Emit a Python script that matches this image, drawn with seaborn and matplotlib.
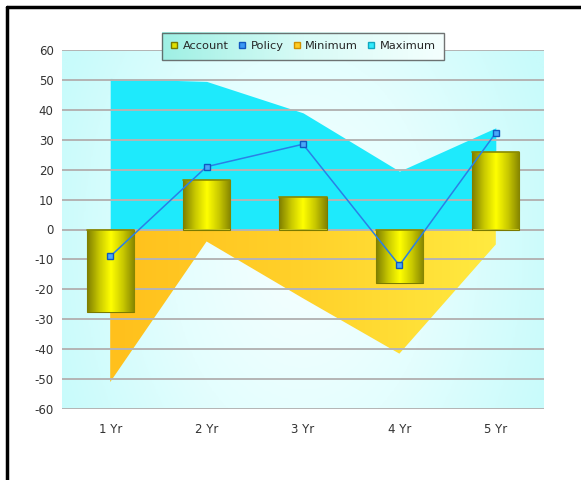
import numpy as np
import seaborn as sns
import matplotlib
matplotlib.use('Agg')
import matplotlib.pyplot as plt
from matplotlib.colors import LinearSegmentedColormap
from matplotlib.lines import Line2D

years = ['1 Yr', '2 Yr', '3 Yr', '4 Yr', '5 Yr']
account = [-27.5, 16.5, 11, -18, 26]
policy = [-9, 21, 28.5, -12, 32.3]
minimum = [-51, -4, -23, -41.5, -5]
maximum = [50.5, 49.5, 39, 19.5, 34]

sns.set_style('white')
plt.rcParams['font.family'] = ['DejaVu Sans']
plt.rcParams['axes.unicode_minus'] = False

fig = plt.figure(figsize=(5.81, 4.8), dpi=100)
ax = fig.add_axes([62 / 581, 1 - 409 / 480, 482 / 581, 359 / 480])

# background: light cyan edges, white middle
gx, gy = np.meshgrid(np.linspace(0, 1, 200), np.linspace(0, 1, 200))
r = np.sqrt(((gx - 0.5) / 0.55) ** 2 + ((gy - 0.45) / 1.1) ** 2)
bg_cmap = LinearSegmentedColormap.from_list('bg', ['#f6ffff', '#e4fefe', '#c8fbfb'])
ax.imshow(np.clip(r, 0, 1), cmap=bg_cmap, extent=[0, 1, 0, 1], transform=ax.transAxes,
          aspect='auto', origin='lower', zorder=0, vmin=0, vmax=1)

x = np.arange(len(years))

# maximum area
max_poly = ax.fill_between(x, 0, maximum, color='#1eeafc', lw=0, zorder=1)
# minimum area with horizontal gradient
min_poly = ax.fill_between(x, 0, minimum, color='none', lw=0, zorder=1)
min_cmap = LinearSegmentedColormap.from_list('mn', ['#ffc01c', '#ffd12a', '#ffea40'])
im = ax.imshow(np.linspace(0, 1, 100).reshape(1, -1), cmap=min_cmap, aspect='auto',
               extent=[0, 4, -60, 0], zorder=1)
im.set_clip_path(min_poly.get_paths()[0], transform=ax.transData)

ax.set_ylim(-60, 60)
ax.set_yticks(range(-60, 61, 10))
ax.grid(axis='y', color='#b4b4b4', lw=1.4, zorder=2)
ax.set_axisbelow(False)

# account bars
sns.barplot(x=years, y=account, color='#e6e600', width=0.49, ax=ax, zorder=3,
            edgecolor='#7a7a00', linewidth=0.8)
bar_cmap = LinearSegmentedColormap.from_list('bar', ['#7e7e00', '#c8c800', '#ffff00', '#caca00', '#858500'])
for p in ax.patches:
    bx, by = p.get_x(), p.get_y()
    bw, bh = p.get_width(), p.get_height()
    g = ax.imshow(np.linspace(0, 1, 100).reshape(1, -1), cmap=bar_cmap, aspect='auto',
                  extent=[bx, bx + bw, min(by, by + bh), max(by, by + bh)], zorder=3.1)
    g.set_clip_path(p)
    ax.plot([bx, bx + bw], [max(by, by + bh)] * 2, color='#8a8a00', lw=1.2, zorder=3.2)

# policy line
sns.lineplot(x=x, y=policy, ax=ax, color='#2a80e6', lw=1.1, zorder=4,
             marker='s', markersize=4.5, markerfacecolor='#4aa8f8',
             markeredgecolor='#1058c0', markeredgewidth=1)

ax.set_xlim(-0.5, 4.5)
ax.set_xticks(x)
ax.set_xticklabels(years)
for s in ax.spines.values():
    s.set_visible(False)
ax.tick_params(axis='both', colors='#333333', labelsize=8.5, length=4, width=1, direction='out')
ax.tick_params(axis='x', pad=6)
ax.tick_params(axis='y', pad=2)

# legend
handles = [
    Line2D([], [], ls='none', marker='s', markersize=4.5, markerfacecolor='#e0e000', markeredgecolor='#7a7a00'),
    Line2D([], [], ls='none', marker='s', markersize=4.5, markerfacecolor='#3a98f4', markeredgecolor='#1058c0'),
    Line2D([], [], ls='none', marker='s', markersize=4.5, markerfacecolor='#ffcc22', markeredgecolor='#d09000'),
    Line2D([], [], ls='none', marker='s', markersize=4.5, markerfacecolor='#30ecfc', markeredgecolor='#10a8c0'),
]
leg = ax.legend(handles, ['Account', 'Policy', 'Minimum', 'Maximum'], loc='center',
                bbox_to_anchor=(0.5, 1.01), ncol=4, frameon=True, fancybox=False,
                fontsize=8.2, handlelength=0.7, handletextpad=0.4, columnspacing=0.8,
                borderpad=0.75, edgecolor='#505050', facecolor='none')
leg.get_frame().set_linewidth(1)
leg.set_zorder(6)
fig.canvas.draw()
bb = leg.get_window_extent().transformed(ax.transAxes.inverted())
lg_cmap = LinearSegmentedColormap.from_list('lg', ['#9ff0e4', '#d8fbf6', '#f4fffe'])
ax.imshow(np.linspace(0, 1, 100).reshape(1, -1), cmap=lg_cmap, aspect='auto',
          extent=[bb.x0, bb.x1, bb.y0, bb.y1], transform=ax.transAxes, zorder=5.5, clip_on=False)

# frame border on the left and top
fig.add_artist(Line2D([7 / 581, 7 / 581], [0, 1 - 7 / 480], transform=fig.transFigure, color='black', lw=2.5))
fig.add_artist(Line2D([7 / 581, 1], [1 - 7 / 480, 1 - 7 / 480], transform=fig.transFigure, color='black', lw=2.5))

fig.savefig('out.png', dpi=100)
